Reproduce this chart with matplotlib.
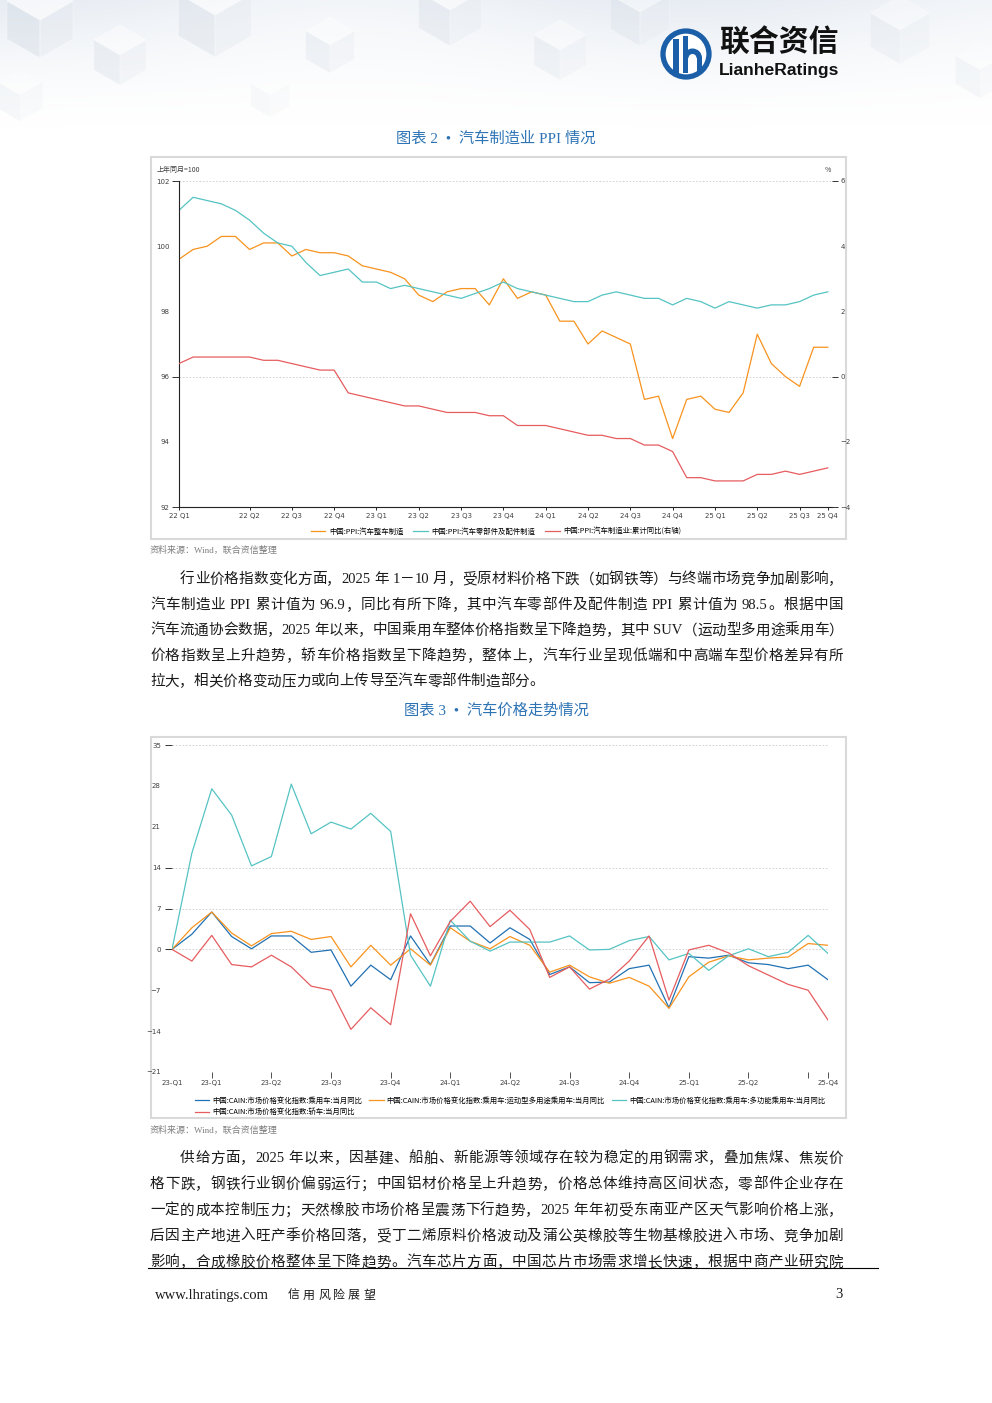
import re
import numpy as np
import matplotlib
matplotlib.use("Agg")
import matplotlib.pyplot as plt
from matplotlib.patches import Rectangle, Circle, Polygon, Wedge

# -----------------------------
# Data: chart 2 (PPI, monthly, 22 Q1 .. 25 Q4)
# -----------------------------
ppi_vehicle = [99.6, 99.9, 100.0, 100.3, 100.3, 99.9, 100.1, 100.1, 99.7, 99.9,
               99.8, 99.8, 99.7, 99.4, 99.3, 99.2, 99.0, 98.5, 98.3, 98.6,
               98.7, 98.7, 98.2, 99.0, 98.4, 98.6, 98.5, 97.7, 97.7, 97.0,
               97.4, 97.2, 97.0, 95.3, 95.4, 94.1, 95.3, 95.4, 95.0, 94.9,
               95.5, 97.3, 96.4, 96.0, 95.7, 96.9, 96.9]
ppi_parts = [101.1, 101.5, 101.4, 101.3, 101.1, 100.8, 100.4, 100.1, 100.0, 99.5,
             99.1, 99.2, 99.3, 98.9, 98.9, 98.7, 98.8, 98.7, 98.6, 98.5,
             98.4, 98.55, 98.7, 98.9, 98.7, 98.6, 98.5, 98.4, 98.3, 98.3,
             98.5, 98.6, 98.5, 98.4, 98.4, 98.2, 98.4, 98.3, 98.1, 98.3,
             98.2, 98.1, 98.2, 98.2, 98.3, 98.5, 98.6]
ppi_yoy = [0.4, 0.6, 0.6, 0.6, 0.6, 0.6, 0.5, 0.5, 0.4, 0.3,
           0.2, 0.2, -0.5, -0.6, -0.7, -0.8, -0.9, -0.9, -1.0, -1.1,
           -1.1, -1.1, -1.2, -1.2, -1.5, -1.5, -1.5, -1.6, -1.7, -1.8,
           -1.8, -1.9, -1.9, -2.1, -2.1, -2.3, -3.1, -3.1, -3.2, -3.2,
           -3.2, -3.0, -3.0, -2.9, -3.0, -2.9, -2.8]
ppi_tick_pos = [0, 5, 8, 11, 14, 17, 20, 23, 26, 29, 32, 35, 38, 41, 44, 46]
ppi_tick_lab = ["22 Q1", "22 Q2", "22 Q3", "22 Q4", "23 Q1", "23 Q2", "23 Q3", "23 Q4",
                "24 Q1", "24 Q2", "24 Q3", "24 Q4", "25 Q1", "25 Q2", "25 Q3", "25 Q4"]
ppi_names = ["中国:PPI:汽车整车制造", "中国:PPI:汽车零部件及配件制造",
             "中国:PPI:汽车制造业:累计同比(右轴)"]

# -----------------------------
# Data: chart 3 (CAIN price index yoy, monthly 2023-01 .. 2025-10)
# -----------------------------
cain_all = [0, 2.6, 6.4, 2.2, 0.1, 2.3, 2.3, -0.5, -0.1, -6.3,
            -2.7, -5.2, 2.3, -2.6, 4.0, 4.0, 1.1, 3.7, 1.7, -4.3,
            -3.0, -5.7, -5.6, -3.3, -2.7, -10.0, -1.25, -1.5, -1.0, -2.3,
            -2.6, -3.3, -2.7, -5.2]
cain_suv = [0, 3.7, 6.4, 2.8, 0.6, 2.7, 3.1, 1.7, 2.2, -3.0,
            0.7, -2.7, 0.1, -2.7, 3.7, 1.4, 0.1, 2.2, 0.7, -3.9,
            -2.7, -4.7, -5.8, -4.8, -6.3, -10.1, -4.7, -2.2, -1.1, -1.8,
            -1.5, -1.3, 1.0, 0.7]
cain_mpv = [0, 16.5, 27.5, 23.0, 14.3, 15.9, 28.3, 19.8, 21.8, 20.6,
            23.3, 20.2, -1.0, -6.3, 5.0, 1.4, -0.3, 1.25, 1.25, 1.25,
            2.3, -0.1, 0.0, 1.5, 2.2, -1.8, -0.7, -3.6, -1.1, 0.1,
            -1.25, -0.5, 2.4, -0.7]
cain_car = [0, -2.0, 2.4, -2.6, -3.0, -1.0, -3.0, -6.3, -7.0, -13.7,
            -10.0, -12.9, 6.1, -1.1, 4.8, 8.25, 3.9, 6.7, 3.4, -4.8,
            -3.0, -6.8, -5.1, -2.0, 2.3, -8.7, -0.1, 0.7, -0.6, -2.8,
            -4.4, -6.0, -7.0, -12.1]
cain_tick_pos = [0, 2, 5, 8, 11, 14, 17, 20, 23, 26, 29, 32, 33]
cain_tick_lab = ["23-Q1", "23-Q1", "23-Q2", "23-Q3", "23-Q4", "24-Q1", "24-Q2",
                 "24-Q3", "24-Q4", "25-Q1", "25-Q2", "", "25-Q4"]
cain_names = ["中国:CAIN:市场价格变化指数:乘用车:当月同比",
              "中国:CAIN:市场价格变化指数:乘用车:运动型多用途乘用车:当月同比",
              "中国:CAIN:市场价格变化指数:乘用车:多功能乘用车:当月同比",
              "中国:CAIN:市场价格变化指数:轿车:当月同比"]

para1 = ["行业价格指数变化方面，2025 年 1－10 月，受原材料价格下跌（如钢铁等）与终端市场竞争加剧影响，",
         "汽车制造业 PPI 累计值为 96.9，同比有所下降，其中汽车零部件及配件制造 PPI 累计值为 98.5。根据中国",
         "汽车流通协会数据，2025 年以来，中国乘用车整体价格指数呈下降趋势，其中 SUV（运动型多用途乘用车）",
         "价格指数呈上升趋势，轿车价格指数呈下降趋势，整体上，汽车行业呈现低端和中高端车型价格差异有所",
         "拉大，相关价格变动压力或向上传导至汽车零部件制造部分。"]
para2 = ["供给方面，2025 年以来，因基建、船舶、新能源等领域存在较为稳定的用钢需求，叠加焦煤、焦炭价",
         "格下跌，钢铁行业钢价偏弱运行；中国铝材价格呈上升趋势，价格总体维持高区间状态，零部件企业存在",
         "一定的成本控制压力；天然橡胶市场价格呈震荡下行趋势，2025 年年初受东南亚产区天气影响价格上涨，",
         "后因主产地进入旺产季价格回落，受丁二烯原料价格波动及蒲公英橡胶等生物基橡胶进入市场、竞争加剧",
         "影响，合成橡胶价格整体呈下降趋势。汽车芯片方面，中国芯片市场需求增长快速，根据中商产业研究院"]

ORANGE = "#f7931e"
TEAL = "#56c3c3"
RED = "#e65c5f"
BLUE = "#2271b3"
TITLE_BLUE = "#2e74b5"
CJK = ["Noto Sans CJK SC", "DejaVu Sans"]
SERIF = ["Liberation Serif", "Noto Sans CJK SC"]

W, H = 992, 1403
fig = plt.figure(figsize=(W / 100, H / 100), dpi=100)
fig.patch.set_facecolor("white")
bg = fig.add_axes([0, 0, 1, 1])
bg.axis("off")


def px_box(l, t, r, b):
    return [l / W, 1 - b / H, (r - l) / W, (b - t) / H]


# -----------------------------
# Header background + logo
# -----------------------------
hy = np.linspace(0, 1, 140)[:, None]
hx = np.linspace(0, 1, W)[None, :]
img = np.zeros((140, W, 4))
img[..., 0], img[..., 1], img[..., 2] = 0.82, 0.86, 0.91
img[..., 3] = np.clip(1 - hy * 1.05, 0, 1) ** 1.6 * (0.40 + 0.12 * np.cos(hx * 9))
bg.imshow(img, extent=[0, W, 140, 0], aspect="auto", zorder=0)


def cube(cx, cy, s, a):
    h = s * 0.5
    top = [(cx, cy - s), (cx + s * 0.87, cy - h), (cx, cy), (cx - s * 0.87, cy - h)]
    left = [(cx - s * 0.87, cy - h), (cx, cy), (cx, cy + s), (cx - s * 0.87, cy + h)]
    right = [(cx + s * 0.87, cy - h), (cx, cy), (cx, cy + s), (cx + s * 0.87, cy + h)]
    bg.add_patch(Polygon(top, closed=True, fc="white", ec="white", lw=0.6, alpha=a, zorder=1))
    bg.add_patch(Polygon(left, closed=True, fc="#d2dae3", ec="white", lw=0.6, alpha=a * 0.7, zorder=1))
    bg.add_patch(Polygon(right, closed=True, fc="#e3e8ee", ec="white", lw=0.6, alpha=a * 0.7, zorder=1))


for cx, cy, s, a in [(40, 20, 38, 0.6), (120, 55, 30, 0.45), (215, 15, 42, 0.5), (330, 45, 28, 0.4),
                     (450, 10, 36, 0.45), (560, 50, 30, 0.35), (640, 12, 34, 0.4), (900, 30, 34, 0.3),
                     (980, 70, 28, 0.25), (20, 95, 26, 0.25), (270, 95, 22, 0.2)]:
    cube(cx, cy, s, a)

LOGO = "#1b5fa8"
bg.add_patch(Circle((686, 54), 23, fc="white", ec=LOGO, lw=3.8, zorder=3))
bg.add_patch(Rectangle((673, 39), 5.5, 34, fc=LOGO, ec="none", zorder=4))
bg.add_patch(Rectangle((682.5, 36), 5.5, 37, fc=LOGO, ec="none", zorder=4))
bg.add_patch(Wedge((692.5, 58), 9.5, 180, 360, width=5.5, fc=LOGO, ec="none", zorder=4))
bg.add_patch(Rectangle((696.5, 57), 5.5, 16, fc=LOGO, ec="none", zorder=4))
bg.text(719, 43, "联合资信", fontsize=21.5, weight="bold", family=CJK, color="#111111",
        ha="left", va="center", zorder=4)
bg.text(719, 70, "LianheRatings", fontsize=12.6, weight="bold", family=["Liberation Sans", "DejaVu Sans"],
        color="#111111", ha="left", va="center", zorder=4)

# -----------------------------
# Titles, sources, frames
# -----------------------------
bg.text(496, 138, "图表 2  •  汽车制造业 PPI 情况", fontsize=11, family=SERIF, color=TITLE_BLUE,
        ha="center", va="center")
bg.text(496, 711, "图表 3  •  汽车价格走势情况", fontsize=11, family=SERIF, color=TITLE_BLUE,
        ha="center", va="center")
bg.add_patch(Rectangle((151, 157), 695, 382, fc="white", ec="#d9d9d9", lw=1.5, zorder=1))
bg.add_patch(Rectangle((151, 737), 695, 381, fc="white", ec="#d9d9d9", lw=1.5, zorder=1))
bg.text(150, 550, "资料来源：Wind，联合资信整理", fontsize=6.5, family=SERIF, color="#7f7f7f",
        ha="left", va="center")
bg.text(150, 1130, "资料来源：Wind，联合资信整理", fontsize=6.5, family=SERIF, color="#7f7f7f",
        ha="left", va="center")
bg.text(157, 170, "上年同月=100", fontsize=5, family=CJK, color="#404040", ha="left", va="center", zorder=2)
bg.text(825, 170, "%", fontsize=5, family=CJK, color="#404040", ha="left", va="center", zorder=2)

# -----------------------------
# Justified body text
# -----------------------------
renderer = fig.canvas.get_renderer()
BODY = 10.5
BODY_PX = BODY * 100 / 72


def put_line(s, x0, x1, yc, justify=True):
    toks = re.findall(r"[A-Za-z0-9.]+| |.", s)
    yb = yc + 0.37 * BODY_PX
    arts, widths = [], []
    for t in toks:
        if t == " ":
            arts.append(None)
            widths.append(0.25 * BODY_PX)
        elif ord(t[0]) > 0x2000:
            arts.append(bg.text(0, yb, t, fontsize=BODY, family=CJK, color="#1a1a1a",
                                ha="left", va="baseline"))
            widths.append(BODY_PX)
        else:
            a = bg.text(0, yb, t, fontsize=BODY, family=SERIF, color="#1a1a1a",
                        ha="left", va="baseline")
            arts.append(a)
            widths.append(a.get_window_extent(renderer).width)
    gap = (x1 - x0 - sum(widths)) / (len(toks) - 1) if justify else 0.0
    x = x0
    for a, w in zip(arts, widths):
        if a is not None:
            a.set_x(x)
        x += w + gap


for k, line in enumerate(para1):
    put_line(line, 180 if k == 0 else 150, 843, 578 + 25.5 * k, justify=k < len(para1) - 1)
for k, line in enumerate(para2):
    put_line(line, 180 if k == 0 else 150, 843, 1157 + 26 * k)

bg.plot([148, 878], [1267.5, 1267.5], color="black", lw=0.8)
bg.text(155, 1295, "www.lhratings.com", fontsize=10.5, family=SERIF, color="#1a1a1a",
        ha="left", va="center")
for k, ch in enumerate("信用风险展望"):
    bg.text(288 + 15 * k, 1295, ch, fontsize=8.6, family=CJK, weight="light", color="#1a1a1a",
            ha="left", va="center")
bg.text(839, 1295, "3", fontsize=10.5, family=SERIF, color="#1a1a1a", ha="center", va="center")

bg.set_xlim(0, W)
bg.set_ylim(H, 0)

# -----------------------------
# Chart 2: PPI
# -----------------------------
ax1 = fig.add_axes(px_box(179, 181, 832, 507))
ax1.patch.set_alpha(0)
x1 = np.arange(len(ppi_vehicle))
l1, = ax1.plot(x1, ppi_vehicle, color=ORANGE, lw=0.9)
l2, = ax1.plot(x1, ppi_parts, color=TEAL, lw=0.9)
ax1r = ax1.twinx()
l3, = ax1r.plot(x1, ppi_yoy, color=RED, lw=0.9)
ax1.set_xlim(0, 46.3)
ax1.set_ylim(92, 102)
ax1r.set_ylim(-4, 6)

ax1.set_yticks(np.arange(92, 103, 2))
ax1.yaxis.remove_overlapping_locs = False
ax1.set_yticks([92, 96, 102], minor=True)
ax1.tick_params(axis="y", which="major", length=0, pad=7, labelsize=5, labelcolor="#404040")
ax1.tick_params(axis="y", which="minor", length=5, width=0.7, color="#333333")
ax1.grid(axis="y", which="minor", ls=(0, (2, 2)), color="#cccccc", lw=0.6)
ax1.set_xticks(ppi_tick_pos)
ax1.set_xticklabels(ppi_tick_lab)
ax1.tick_params(axis="x", length=2.5, width=0.6, pad=2, labelsize=5, labelcolor="#404040")
for side in ["top", "right"]:
    ax1.spines[side].set_visible(False)
for side in ["left", "bottom"]:
    ax1.spines[side].set_color("#222222")
    ax1.spines[side].set_linewidth(0.8)

ax1r.set_yticks(np.arange(-4, 7, 2))
ax1r.yaxis.remove_overlapping_locs = False
ax1r.set_yticks([-4, 0, 6], minor=True)
ax1r.tick_params(axis="y", which="major", length=0, pad=6, labelsize=5, labelcolor="#404040")
ax1r.tick_params(axis="y", which="minor", length=4, width=0.7, color="#333333")
for side in ax1r.spines:
    ax1r.spines[side].set_visible(False)

fig.legend([l1, l2, l3], ppi_names, loc="center", bbox_to_anchor=(496 / W, 1 - 532 / H),
           ncol=3, frameon=False, prop={"family": CJK, "size": 5.3},
           handlelength=2.0, handletextpad=0.5, columnspacing=1.3)

# -----------------------------
# Chart 3: CAIN price index
# -----------------------------
ax2 = fig.add_axes(px_box(172, 745, 828, 1072))
ax2.patch.set_alpha(0)
x2 = np.arange(len(cain_all))
m1, = ax2.plot(x2, cain_all, color=BLUE, lw=0.9)
m2, = ax2.plot(x2, cain_suv, color=ORANGE, lw=0.9)
m3, = ax2.plot(x2, cain_mpv, color=TEAL, lw=0.9)
m4, = ax2.plot(x2, cain_car, color=RED, lw=0.9)
ax2.set_xlim(0, 33)
ax2.set_ylim(-21, 35)
ax2.set_yticks(np.arange(-21, 36, 7))
ax2.yaxis.remove_overlapping_locs = False
ax2.set_yticks([0, 7, 14, 35], minor=True)
ax2.tick_params(axis="y", which="major", length=0, pad=8, labelsize=5, labelcolor="#404040")
ax2.tick_params(axis="y", which="minor", length=5, width=0.7, color="#333333")
ax2.grid(axis="y", which="minor", ls=(0, (2, 2)), color="#cccccc", lw=0.6)
ax2.set_xticks(cain_tick_pos)
ax2.set_xticklabels(cain_tick_lab)
ax2.xaxis.remove_overlapping_locs = False
ax2.set_xticks(cain_tick_pos[1:], minor=True)
ax2.tick_params(axis="x", which="major", length=0, pad=6, labelsize=5, labelcolor="#404040")
ax2.tick_params(axis="x", which="minor", length=4, width=0.6, color="#333333", pad=0)
for side in ax2.spines:
    ax2.spines[side].set_visible(False)

fig.legend([m1, m4, m2, m3], [cain_names[0], cain_names[3], cain_names[1], cain_names[2]],
           loc="upper left", bbox_to_anchor=(188 / W, 1 - 1090 / H), ncol=3, frameon=False,
           prop={"family": CJK, "size": 5.3}, handlelength=2.0, handletextpad=0.4,
           columnspacing=0.9, labelspacing=0.5)

fig.savefig("out.png", dpi=100)
